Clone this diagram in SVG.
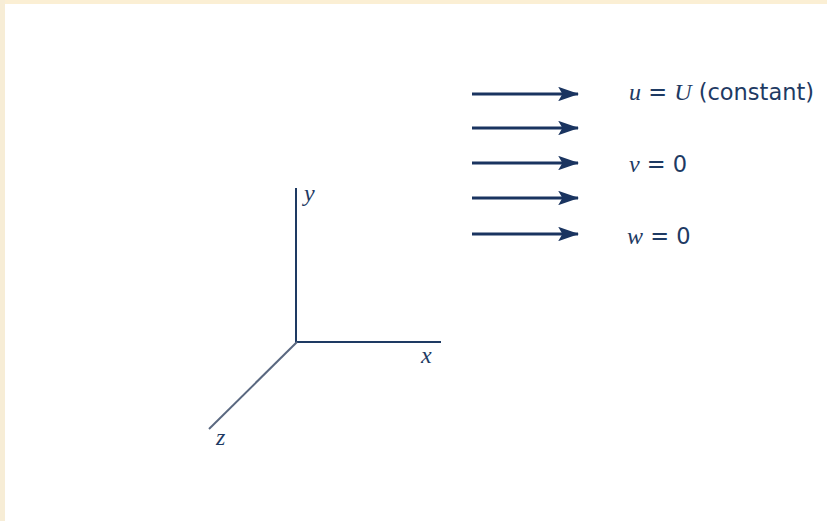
<svg xmlns="http://www.w3.org/2000/svg" width="827" height="521" viewBox="0 0 827 521">
<style>
.ax{stroke:#1e3a63;stroke-width:2;fill:none}
.fl{stroke:#1a3460;stroke-width:3;fill:none;marker-end:url(#ah)}
.v{font-family:"Liberation Serif",serif;font-style:italic;font-size:24px;fill:#1e3a63}
.a{font-family:"Liberation Serif",serif;font-style:italic;font-size:24px;fill:#1e3a63}
.t{font-family:"DejaVu Sans",sans-serif;font-size:22.5px;fill:#1e3a63}
</style>
<defs>
<marker id="ah" markerWidth="7" markerHeight="4.8" refX="6.6" refY="2.4" orient="auto" markerUnits="strokeWidth">
<path d="M0,0 L7,2.4 L0,4.8 L1.4,2.4 Z" fill="#1a3460"/>
</marker>
</defs>
<rect width="827" height="521" fill="#ffffff"/>
<rect x="0" y="0" width="827" height="4" fill="#fbefd4"/>
<rect x="0" y="0" width="5" height="521" fill="#f7edd6"/>
<g id="axes">
<line class="ax" x1="296" y1="188" x2="296" y2="342"/>
<line class="ax" x1="295" y1="342" x2="441" y2="342"/>
<line x1="297" y1="342" x2="209" y2="429" stroke="#5a6880" stroke-width="2"/>
<text class="a" x="304" y="201">y</text>
<text class="a" x="421" y="363">x</text>
<text class="a" x="216" y="445">z</text>
</g>
<g id="flow">
<line class="fl" x1="472" y1="94" x2="578" y2="94"/>
<line class="fl" x1="472" y1="128" x2="578" y2="128"/>
<line class="fl" x1="472" y1="163" x2="578" y2="163"/>
<line class="fl" x1="472" y1="198" x2="578" y2="198"/>
<line class="fl" x1="472" y1="234" x2="578" y2="234"/>
</g>
<g id="labels">
<text x="629" y="100"><tspan class="v">u</tspan><tspan class="t"> = </tspan><tspan class="v">U</tspan><tspan class="t"> (constant)</tspan></text>
<text x="629" y="172"><tspan class="v">v</tspan><tspan class="t"> = 0</tspan></text>
<text x="627" y="244"><tspan class="v">w</tspan><tspan class="t"> = 0</tspan></text>
</g>
</svg>
